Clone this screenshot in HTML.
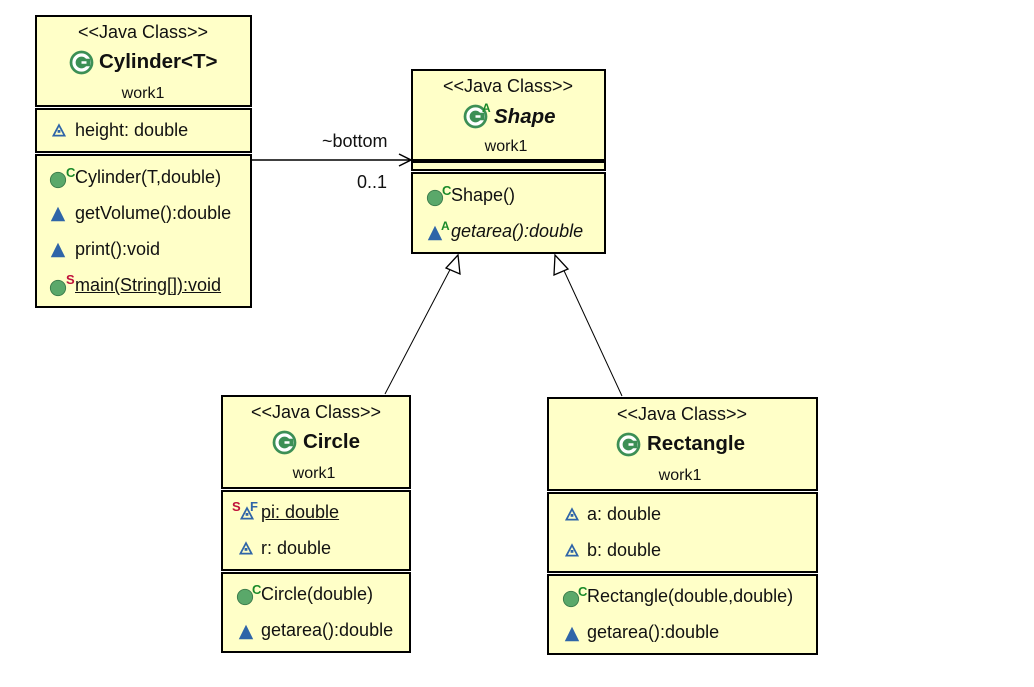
<!DOCTYPE html>
<html><head><style>
body{margin:0;width:1034px;height:687px;background:#fff;position:relative;overflow:hidden;font-family:"Liberation Sans",sans-serif;color:#111}
.c{position:absolute;background:#ffffc8;border:2px solid #000;box-sizing:border-box}
.t{position:absolute;font-size:18px;line-height:20px;white-space:nowrap}
.ctr{transform:translateX(-50%)}
.b{font-weight:bold;font-size:20.5px}
.u{text-decoration:underline}
svg.i{position:absolute}
</style></head><body>
<svg width="1034" height="687" style="position:absolute;left:0;top:0">
<defs>
<symbol id="g" viewBox="0 0 20 20"><circle cx="10" cy="10" r="9.5" fill="#3c8f55"/><circle cx="10" cy="10" r="6" fill="none" stroke="#fff" stroke-width="2.6"/><rect x="11" y="7" width="6" height="6" fill="#3c8f55"/><rect x="10" y="9" width="4" height="2" fill="#fff"/></symbol>
<symbol id="m" viewBox="0 0 20 20"><circle cx="10" cy="10" r="8.5" fill="#5aa86a" stroke="#3a7a4a"/></symbol>
<symbol id="p" viewBox="0 0 20 20"><polygon points="10,1 19,19 1,19" fill="#2f65a8"/></symbol>
<symbol id="f" viewBox="0 0 20 20"><polygon points="10,3 18,18 2,18" fill="none" stroke="#2f65a8" stroke-width="2.5"/><rect x="8" y="10" width="4" height="4" fill="#2f65a8"/></symbol>
</defs>
<line x1="252" y1="160" x2="410" y2="160" stroke="#000" stroke-width="1.5"/>
<polyline points="399,154 411,160 399,166" fill="none" stroke="#000" stroke-width="1.5"/>
<line x1="385" y1="394" x2="454" y2="262" stroke="#000"/>
<polygon points="458,255 446,268 460,274" fill="#fff" stroke="#000" stroke-width="1.3"/>
<line x1="622" y1="396" x2="560" y2="262" stroke="#000"/>
<polygon points="555,255 554,275 568,269" fill="#fff" stroke="#000" stroke-width="1.3"/>
</svg>
<div class="t" style="left:322px;top:131px">~bottom</div>
<div class="t" style="left:357px;top:172px">0..1</div>

<!-- Cylinder -->
<div class="c" style="left:35px;top:15px;width:217px;height:92px"></div>
<div class="c" style="left:35px;top:108px;width:217px;height:45px"></div>
<div class="c" style="left:35px;top:154px;width:217px;height:154px"></div>
<div class="t ctr" style="left:143px;top:22px">&lt;&lt;Java Class&gt;&gt;</div>
<svg class="i" style="left:69px;top:50px" width="25" height="25"><use href="#g"/></svg>
<div class="t b" style="left:99px;top:52px">Cylinder&lt;T&gt;</div>
<div class="t ctr" style="left:143px;top:84px;font-size:16px">work1</div>
<svg class="i" style="left:52px;top:123px" width="14" height="14"><use href="#f"/></svg>
<div class="t" style="left:75px;top:120px">height: double</div>
<svg class="i" style="left:49px;top:171px" width="18" height="18"><use href="#m"/></svg>
<div class="t" style="left:66px;top:163px;color:#1a8a2a;font-weight:bold;font-size:13px">C</div>
<div class="t" style="left:75px;top:167px">Cylinder(T,double)</div>
<svg class="i" style="left:49px;top:206px" width="18" height="16"><use href="#p"/></svg>
<div class="t" style="left:75px;top:203px">getVolume():double</div>
<svg class="i" style="left:49px;top:242px" width="18" height="16"><use href="#p"/></svg>
<div class="t" style="left:75px;top:239px">print():void</div>
<svg class="i" style="left:49px;top:279px" width="18" height="18"><use href="#m"/></svg>
<div class="t" style="left:66px;top:270px;color:#c0103a;font-weight:bold;font-size:13px">S</div>
<div class="t u" style="left:75px;top:275px">main(String[]):void</div>

<!-- Shape -->
<div class="c" style="left:411px;top:69px;width:195px;height:92px"></div>
<div class="c" style="left:411px;top:161px;width:195px;height:10px"></div>
<div class="c" style="left:411px;top:172px;width:195px;height:82px"></div>
<div class="t ctr" style="left:508px;top:76px">&lt;&lt;Java Class&gt;&gt;</div>
<svg class="i" style="left:463px;top:104px" width="25" height="25"><use href="#g"/></svg>
<div class="t" style="left:482px;top:98px;color:#1a8a2a;font-weight:bold;font-size:12px">A</div>
<div class="t b" style="left:494px;top:107px;font-style:italic">Shape</div>
<div class="t ctr" style="left:506px;top:137px;font-size:16px">work1</div>
<svg class="i" style="left:426px;top:189px" width="18" height="18"><use href="#m"/></svg>
<div class="t" style="left:442px;top:181px;color:#1a8a2a;font-weight:bold;font-size:13px">C</div>
<div class="t" style="left:451px;top:185px">Shape()</div>
<svg class="i" style="left:426px;top:225px" width="18" height="16"><use href="#p"/></svg>
<div class="t" style="left:441px;top:216px;color:#1a8a2a;font-weight:bold;font-size:12px">A</div>
<div class="t" style="left:451px;top:221px;font-style:italic">getarea():double</div>

<!-- Circle -->
<div class="c" style="left:221px;top:395px;width:190px;height:94px"></div>
<div class="c" style="left:221px;top:490px;width:190px;height:81px"></div>
<div class="c" style="left:221px;top:572px;width:190px;height:81px"></div>
<div class="t ctr" style="left:316px;top:402px">&lt;&lt;Java Class&gt;&gt;</div>
<svg class="i" style="left:272px;top:430px" width="25" height="25"><use href="#g"/></svg>
<div class="t b" style="left:303px;top:432px">Circle</div>
<div class="t ctr" style="left:314px;top:464px;font-size:16px">work1</div>
<div class="t" style="left:232px;top:497px;color:#c0103a;font-weight:bold;font-size:13px">S</div>
<svg class="i" style="left:240px;top:506px" width="14" height="14"><use href="#f"/></svg>
<div class="t" style="left:250px;top:497px;color:#2f65a8;font-weight:bold;font-size:13px">F</div>
<div class="t u" style="left:261px;top:502px">pi: double</div>
<svg class="i" style="left:239px;top:541px" width="14" height="14"><use href="#f"/></svg>
<div class="t" style="left:261px;top:538px">r: double</div>
<svg class="i" style="left:236px;top:588px" width="18" height="18"><use href="#m"/></svg>
<div class="t" style="left:252px;top:580px;color:#1a8a2a;font-weight:bold;font-size:13px">C</div>
<div class="t" style="left:261px;top:584px">Circle(double)</div>
<svg class="i" style="left:237px;top:624px" width="18" height="16"><use href="#p"/></svg>
<div class="t" style="left:261px;top:620px">getarea():double</div>

<!-- Rectangle -->
<div class="c" style="left:547px;top:397px;width:271px;height:94px"></div>
<div class="c" style="left:547px;top:492px;width:271px;height:81px"></div>
<div class="c" style="left:547px;top:574px;width:271px;height:81px"></div>
<div class="t ctr" style="left:682px;top:404px">&lt;&lt;Java Class&gt;&gt;</div>
<svg class="i" style="left:616px;top:432px" width="25" height="25"><use href="#g"/></svg>
<div class="t b" style="left:647px;top:434px">Rectangle</div>
<div class="t ctr" style="left:680px;top:466px;font-size:16px">work1</div>
<svg class="i" style="left:565px;top:507px" width="14" height="14"><use href="#f"/></svg>
<div class="t" style="left:587px;top:504px">a: double</div>
<svg class="i" style="left:565px;top:543px" width="14" height="14"><use href="#f"/></svg>
<div class="t" style="left:587px;top:540px">b: double</div>
<svg class="i" style="left:562px;top:590px" width="18" height="18"><use href="#m"/></svg>
<div class="t" style="left:578px;top:582px;color:#1a8a2a;font-weight:bold;font-size:13px">C</div>
<div class="t" style="left:587px;top:586px">Rectangle(double,double)</div>
<svg class="i" style="left:563px;top:626px" width="18" height="16"><use href="#p"/></svg>
<div class="t" style="left:587px;top:622px">getarea():double</div>
</body></html>
